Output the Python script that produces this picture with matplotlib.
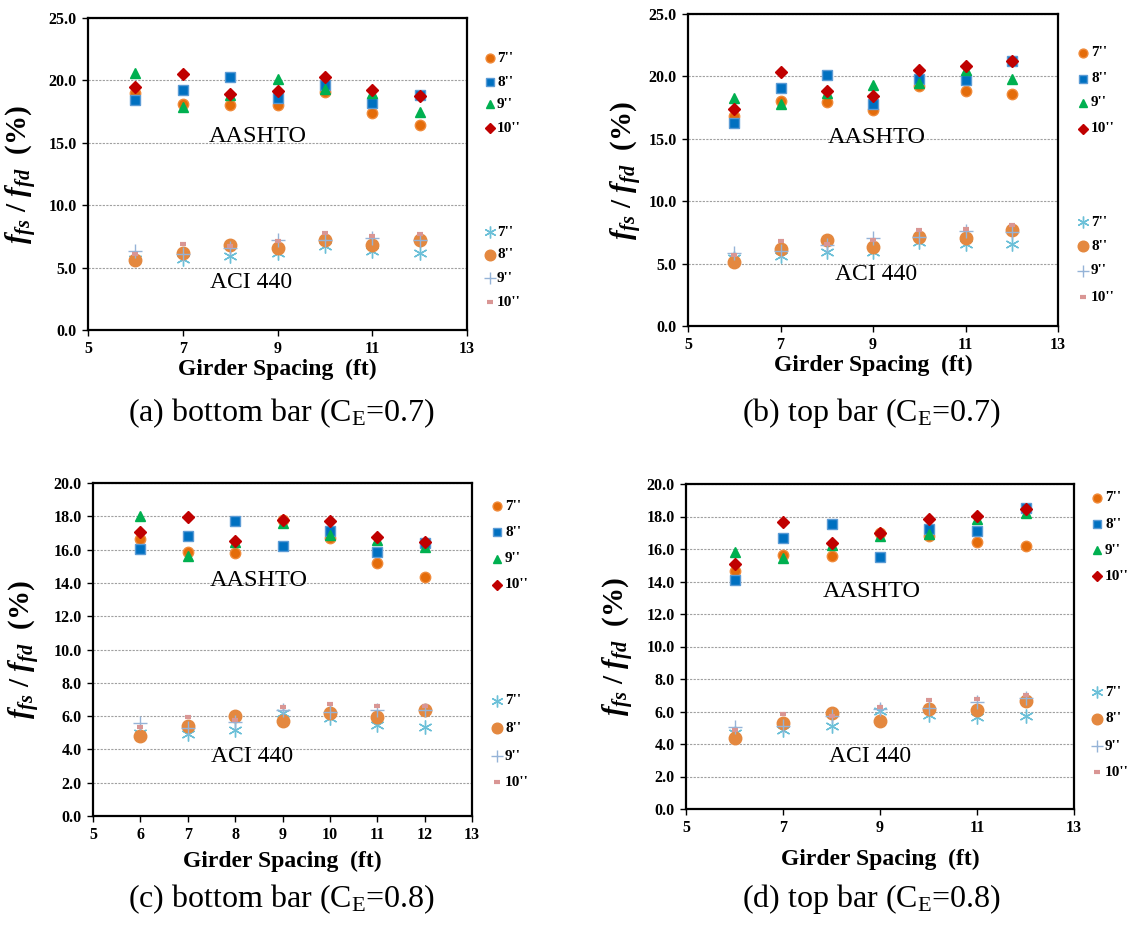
import matplotlib
matplotlib.use('Agg')
import matplotlib.pyplot as plt
from matplotlib.lines import Line2D

plt.rcParams['font.family'] = ['Liberation Serif', 'DejaVu Serif']
plt.rcParams['mathtext.fontset'] = 'custom'
plt.rcParams['mathtext.rm'] = 'Liberation Serif'
plt.rcParams['mathtext.it'] = 'Liberation Serif:italic:bold'
plt.rcParams['mathtext.bf'] = 'Liberation Serif:bold'

#%% data
spacing = [6, 7, 8, 9, 10, 11, 12]
depths = ["7''", "8''", "9''", "10''"]

# (a) bottom bar, CE=0.7  -> rows: 7'', 8'', 9'', 10''
aashto_a = [[19.0, 18.1, 18.05, 18.05, 19.1, 17.4, 16.4],
            [18.4, 19.2, 20.3, 18.6, 19.6, 18.2, 18.8],
            [20.6, 17.9, 18.8, 20.1, 19.3, 19.0, 17.5],
            [19.5, 20.5, 18.9, 19.15, 20.3, 19.2, 18.75]]
aci_a = [[5.7, 5.65, 5.95, 6.2, 6.75, 6.35, 6.2],
         [5.6, 6.2, 6.85, 6.55, 7.2, 6.85, 7.25],
         [6.35, 6.1, 6.6, 7.25, 7.2, 7.35, 7.2],
         [6.1, 6.9, 6.7, 7.1, 7.75, 7.55, 7.7]]

# (b) top bar, CE=0.7
aashto_b = [[16.8, 18.0, 17.93, 17.28, 19.2, 18.86, 18.57],
            [16.25, 19.1, 20.15, 17.82, 19.8, 19.7, 21.25],
            [18.25, 17.77, 18.7, 19.34, 19.5, 20.5, 19.8],
            [17.37, 20.36, 18.86, 18.43, 20.5, 20.8, 21.2]]
aci_b = [[5.45, 5.6, 5.9, 5.95, 6.7, 6.6, 6.6],
         [5.11, 6.15, 6.88, 6.3, 7.15, 7.06, 7.73],
         [5.81, 6.0, 6.5, 7.06, 7.15, 7.6, 7.5],
         [5.68, 6.8, 6.6, 6.9, 7.7, 7.8, 8.08]]

# (c) bottom bar, CE=0.8
aashto_c = [[16.65, 15.85, 15.77, 17.8, 16.7, 15.19, 14.33],
            [16.03, 16.8, 17.74, 16.2, 17.1, 15.85, 16.4],
            [18.0, 15.6, 16.43, 17.6, 16.85, 16.6, 16.17],
            [17.05, 17.94, 16.53, 17.76, 17.7, 16.75, 16.43]]
aci_c = [[5.0, 4.91, 5.15, 6.17, 5.87, 5.47, 5.37],
         [4.83, 5.43, 6.03, 5.69, 6.21, 5.97, 6.37],
         [5.57, 5.27, 5.67, 6.37, 6.27, 6.37, 6.37],
         [5.33, 5.97, 5.77, 6.53, 6.73, 6.63, 6.63]]

# (d) top bar, CE=0.8
aashto_d = [[14.64, 15.64, 15.6, 16.99, 16.77, 16.42, 16.18],
            [14.11, 16.65, 17.55, 15.52, 17.24, 17.12, 18.5],
            [15.79, 15.42, 16.26, 16.77, 16.93, 17.87, 18.2],
            [15.05, 17.69, 16.36, 16.97, 17.83, 18.04, 18.47]]
aci_d = [[4.7, 4.87, 5.11, 6.03, 5.79, 5.69, 5.73],
         [4.38, 5.32, 5.89, 5.44, 6.18, 6.09, 6.63],
         [5.07, 5.11, 5.73, 6.13, 6.24, 6.61, 6.81],
         [4.87, 5.87, 5.73, 6.3, 6.71, 6.79, 7.01]]

captions = ['(a) bottom bar (C$_{\\mathrm{E}}$=0.7)', '(b) top bar (C$_{\\mathrm{E}}$=0.7)',
            '(c) bottom bar (C$_{\\mathrm{E}}$=0.8)', '(d) top bar (C$_{\\mathrm{E}}$=0.8)']

#%% styles
aashto_style = [dict(marker='o', color='#E46C0A', ms=7.5, mec='#F08A3A'),
                dict(marker='s', color='#0070C0', ms=7.5, mec='#5B9BD5'),
                dict(marker='^', color='#00B050', ms=7.5, mec='#00B050'),
                dict(marker='D', color='#C00000', ms=6, mec='#C00000')]
aci_style = [dict(marker=(6, 2, 0), color='#6CC0D8', ms=10, mew=1.0),
             dict(marker='o', color='#E4883F', ms=9, mec='#E4883F'),
             dict(marker='+', color='#95B3D7', ms=10, mew=1.0),
             dict(marker='_', color='#D99694', ms=5, mew=3.0)]

fig = plt.figure(figsize=(11.36, 9.27), dpi=100)

# axes boxes in pixels (left, top, right, bottom)
boxes = [(88, 18, 467, 330), (688, 14, 1058, 326), (93, 483, 472, 816), (686, 484, 1074, 809)]
ylims = [25, 25, 20, 20]
ysteps = [5, 5, 2, 2]
xsteps = [2, 2, 1, 2]
panels = [(aashto_a, aci_a), (aashto_b, aci_b), (aashto_c, aci_c), (aashto_d, aci_d)]
aashto_txt = [(8.59, 15.5), (9.09, 15.1), (8.5, 14.15), (8.83, 13.4)]
aci_txt = [(8.44, 3.8), (9.06, 4.15), (8.35, 3.6), (8.8, 3.25)]
ylab_x = [-0.13, -0.12, -0.135, -0.13]
xlab_y = [-0.093, -0.092, -0.106, -0.124]
# legend: marker x, text x, upper rows y, lower rows y (pixels)
legends = [(490, 497, [58, 82, 104, 128], [232, 255, 278, 302]),
           (1083, 1091, [53, 79, 103, 129], [222, 246, 271, 297]),
           (497, 505, [506, 532, 559, 585], [701, 728, 756, 782]),
           (1097, 1105, [498, 524, 550, 576], [692, 719, 746, 772])]
cap_pos = [(282, 413), (872, 413), (282, 899), (872, 899)]

W, H = 1136.0, 927.0
for k in range(4):
    l, t, r, b = boxes[k]
    ax = fig.add_axes([l / W, 1 - b / H, (r - l) / W, (b - t) / H])
    aashto, aci = panels[k]
    for i in range(4):
        ax.plot(spacing, aashto[i], ls='none', zorder=3, **aashto_style[i])
    for i in range(4):
        ax.plot(spacing, aci[i], ls='none', zorder=3, **aci_style[i])

    ax.set_xlim(5, 13)
    ax.set_ylim(0, ylims[k])
    ax.set_xticks(range(5, 14, xsteps[k]))
    ax.set_yticks([v * ysteps[k] for v in range(int(ylims[k] / ysteps[k]) + 1)])
    ax.set_yticklabels(['%.1f' % v for v in ax.get_yticks()])
    for lab in ax.get_xticklabels() + ax.get_yticklabels():
        lab.set_fontweight('bold')
        lab.set_fontsize(11.5)
    ax.tick_params(direction='out', length=4, width=1, pad=4)
    ax.grid(axis='y', color='#A0A0A0', ls=(0, (2, 1.2)), lw=0.8)
    ax.set_axisbelow(True)
    for s in ax.spines.values():
        s.set_linewidth(1.6)

    ax.set_xlabel('Girder Spacing  (ft)', fontsize=17, fontweight='bold')
    ax.xaxis.set_label_coords(0.5, xlab_y[k])
    ax.set_ylabel('$f_{fs}$ / $f_{fd}$  (%)', fontsize=21, fontweight='bold')
    ax.yaxis.set_label_coords(ylab_x[k], 0.5)

    ax.text(aashto_txt[k][0], aashto_txt[k][1], 'AASHTO', fontsize=17.5, ha='center', va='center')
    ax.text(aci_txt[k][0], aci_txt[k][1], 'ACI 440', fontsize=17, ha='center', va='center')

    # legends drawn beside the plot
    mx, tx, up, lo = legends[k]
    for rows, styles in [(up, aashto_style), (lo, aci_style)]:
        for i in range(4):
            st = dict(styles[i])
            st['ms'] = st['ms'] * 0.85
            fig.add_artist(Line2D([mx / W], [1 - rows[i] / H], ls='none',
                                  transform=fig.transFigure, **st))
            fig.text(tx / W, 1 - rows[i] / H, depths[i], fontsize=11, fontweight='bold',
                     ha='left', va='center')

    fig.text(cap_pos[k][0] / W, 1 - cap_pos[k][1] / H, captions[k], fontsize=23,
             ha='center', va='center')

plt.savefig('out.png', dpi=100)
